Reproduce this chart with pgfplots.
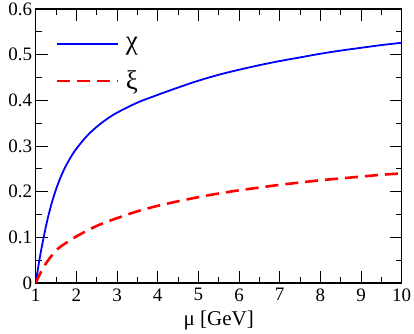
\documentclass[border=0pt]{standalone}
\usepackage{fontspec}
\setmainfont{Liberation Serif}
\usepackage{pgfplots}
\pgfplotsset{compat=1.18}

\begin{document}
\begin{tikzpicture}
\begin{axis}[
  scale only axis,
  width=366pt, height=274pt,
  xmin=1, xmax=10, ymin=0, ymax=0.6,
  xtick={1,2,...,10},
  ytick={0,0.1,0.2,0.3,0.4,0.5,0.6},
  minor x tick num=1, minor y tick num=1,
  tick align=inside,
  major tick length=12pt, minor tick length=6pt,
  axis line style={line width=1.2pt},
  tick style={line width=1pt, black},
  /pgf/number format/assume math mode=true,
  ticklabel style={font=\fontsize{19}{19}\selectfont},
  xticklabel style={yshift=-2pt},
  yticklabel style={/pgf/number format/fixed, /pgf/number format/precision=1},
  xlabel={μ [GeV]},
  xlabel style={font=\fontsize{21}{21}\selectfont, yshift=-3pt},
  legend cell align=left,
  legend image code/.code={\draw[#1] (0pt,0pt) -- (61pt,0pt);},
  legend style={draw=none, fill=none, at={(rel axis cs:0.045,0.914)}, anchor=north west,
    font=\fontsize{27}{27}\selectfont, row sep=16pt, column sep=5pt},
]
\addplot[blue, line width=1.8pt, smooth] coordinates {
  (1.00,0) (1.10,0.055) (1.20,0.102) (1.30,0.143) (1.40,0.177) (1.50,0.205)
  (1.60,0.229) (1.70,0.249) (1.80,0.266) (1.90,0.281) (2.00,0.294) (2.25,0.321)
  (2.50,0.342) (2.75,0.359) (3.00,0.373) (3.50,0.395) (4.00,0.412) (4.50,0.428)
  (5.00,0.443) (5.50,0.456) (6.00,0.467) (6.50,0.477) (7.00,0.486) (7.50,0.494)
  (8.00,0.502) (8.50,0.509) (9.00,0.515) (9.50,0.521) (10.00,0.526)
};
\addlegendentry{χ}
\addplot[red, line width=2.6pt, dash pattern=on 13pt off 7pt, smooth] coordinates {
  (1.00,0) (1.10,0.019) (1.20,0.036) (1.30,0.049) (1.40,0.061) (1.50,0.071)
  (1.60,0.079) (1.80,0.091) (2.00,0.102) (2.25,0.114) (2.50,0.125) (2.75,0.134)
  (3.00,0.142) (3.50,0.157) (4.00,0.169) (4.50,0.179) (5.00,0.188) (5.50,0.196)
  (6.00,0.203) (6.50,0.209) (7.00,0.215) (7.50,0.220) (8.00,0.225) (8.50,0.229)
  (9.00,0.233) (9.50,0.237) (10.00,0.240)
};
\addlegendentry{ξ}
\end{axis}
\pgfresetboundingbox
\path[use as bounding box] (-35.7pt,-50pt) rectangle (378.3pt,283pt);
\end{tikzpicture}
\end{document}
